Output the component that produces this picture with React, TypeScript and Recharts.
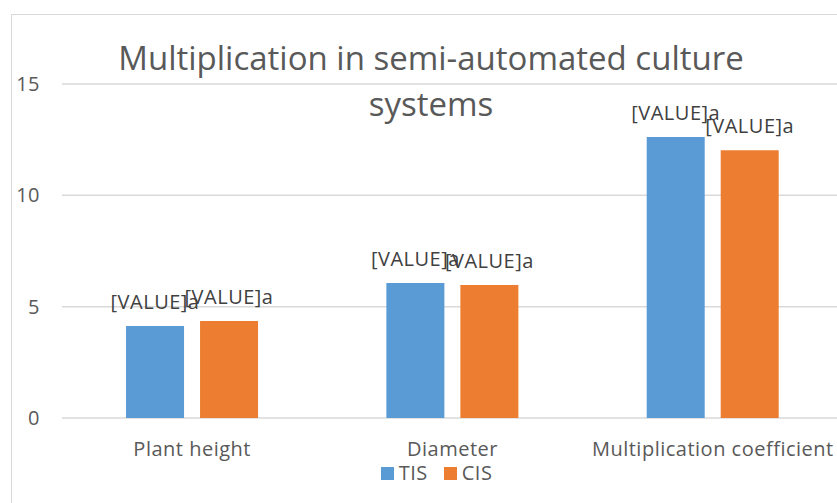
import { BarChart, Bar, XAxis, YAxis, CartesianGrid, Legend, LabelList } from 'recharts';

const categories = ['Plant height', 'Diameter', 'Multiplication coefficient'];
const tisValues = [4.13, 6.06, 12.62];
const cisValues = [4.36, 5.97, 12.03];
const yTicks = [0, 5, 10, 15];

const data = categories.map((name, i) => ({ name, TIS: tisValues[i], CIS: cisValues[i] }));

const FONT = '"Open Sans", sans-serif';
const textStyle = { fill: '#595959', fontSize: 20, fontFamily: FONT, letterSpacing: 0.5 };

const renderLegend = () => (
  <div
    style={{
      display: 'flex',
      justifyContent: 'center',
      paddingLeft: 30,
      fontFamily: FONT,
      fontSize: 20,
      letterSpacing: 0.5,
      color: '#595959',
      lineHeight: '24px',
    }}
  >
    {[
      { name: 'TIS', color: '#5b9bd5' },
      { name: 'CIS', color: '#ed7d31' },
    ].map((item) => (
      <span key={item.name} style={{ display: 'flex', alignItems: 'center', margin: '0 8px' }}>
        <span style={{ width: 13, height: 13, background: item.color, marginRight: 5, display: 'inline-block' }} />
        {item.name}
      </span>
    ))}
  </div>
);

export default function App() {
  return (
    <div style={{ position: 'absolute', left: 0, top: 0, width: 837, height: 503, overflow: 'hidden', background: '#fff' }}>
      <div
        style={{
          position: 'absolute',
          left: 11,
          top: 14,
          width: 900,
          height: 600,
          border: '1.5px solid #d9d9d9',
        }}
      />
      <BarChart
        width={850}
        height={503}
        data={data}
        margin={{ top: 84, right: 7, left: 0, bottom: 18 }}
        barCategoryGap="24.6%"
        barGap={16}
        style={{ position: 'absolute', left: 0, top: 0 }}
      >
        <CartesianGrid vertical={false} stroke="#d9d9d9" strokeWidth={1.5} />
        <XAxis
          dataKey="name"
          axisLine={false}
          tickLine={false}
          tickMargin={18}
          height={43}
          tick={textStyle}
        />
        <YAxis
          domain={[0, 15]}
          ticks={yTicks}
          axisLine={false}
          tickLine={false}
          tickSize={0}
          tickMargin={22}
          width={62}
          tick={textStyle}
        />
        <Legend verticalAlign="bottom" height={24} content={renderLegend} />
        <Bar dataKey="TIS" fill="#5b9bd5" isAnimationActive={false}>
          <LabelList
            dataKey="TIS"
            position="top"
            offset={17}
            formatter={() => '[VALUE]a'}
            style={{ ...textStyle, fill: '#404040' }}
          />
        </Bar>
        <Bar dataKey="CIS" fill="#ed7d31" isAnimationActive={false}>
          <LabelList
            dataKey="CIS"
            position="top"
            offset={17}
            formatter={() => '[VALUE]a'}
            style={{ ...textStyle, fill: '#404040' }}
          />
        </Bar>
      </BarChart>
      <div
        style={{
          position: 'absolute',
          left: 0,
          top: 35,
          width: 862,
          textAlign: 'center',
          fontFamily: FONT,
          fontSize: 33,
          lineHeight: '46px',
          color: '#595959',
          pointerEvents: 'none',
        }}
      >
        Multiplication in semi-automated culture
        <br />
        systems
      </div>
    </div>
  );
}
